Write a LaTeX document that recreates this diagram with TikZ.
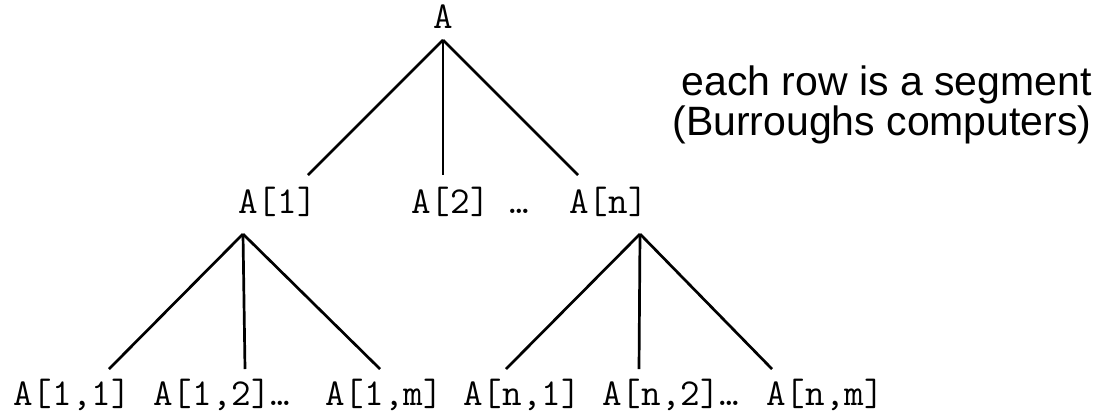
\documentclass[tikz,border=0pt]{standalone}
\usepackage{fontspec}
\setsansfont{Liberation Sans}
\begin{document}
\begin{tikzpicture}[x=1pt,y=-1pt,line width=2.7pt,
    idx/.style={anchor=base west, inner sep=0pt, font=\fontsize{38}{38}\selectfont\ttfamily},
    note/.style={anchor=base east, inner sep=0pt, align=right, font=\fontsize{41}{40}\selectfont\sffamily}]
        \useasboundingbox (0,0) rectangle (1110,416);

        \node[idx, anchor=base] (a) at (443,28) {A};
        \node[idx] (a1) at (237,213) {A[1]};
        \node[idx] (a2) at (410,213) {A[2] …};
        \node[idx] (an) at (568,213) {A[n]};

        \node[idx] (a11) at (12,405) {A[1,1]};
        \node[idx] (a12) at (152,405) {A[1,2]…};
        \node[idx] (a1m) at (324,405) {A[1,m]};
        \node[idx] (an1) at (462,405) {A[n,1]};
        \node[idx] (an2) at (601,405) {A[n,2]…};
        \node[idx] (anm) at (765,405) {A[n,m]};

        \node[note] (seg) at (1093,135) {each row is a segment\\(Burroughs computers)};

        \coordinate (forktop) at (443,40);
        \coordinate (fork1) at (243,234);
        \coordinate (forkn) at (640,234);
        \foreach \n/\x in {l/308, m/443, r/578}
            \coordinate (legtop\n) at (\x,175);
        \foreach \n/\x in {l/109, m/245, r/380}
            \coordinate (leg1\n) at (\x,369);
        \foreach \n/\x in {l/506, m/639, r/772}
            \coordinate (legn\n) at (\x,369);

        \foreach \n in {l,m,r} {
            \draw (forktop) -- (legtop\n);
            \draw (fork1) -- (leg1\n);
            \draw (forkn) -- (legn\n);
        }
    \end{tikzpicture}
\end{document}
